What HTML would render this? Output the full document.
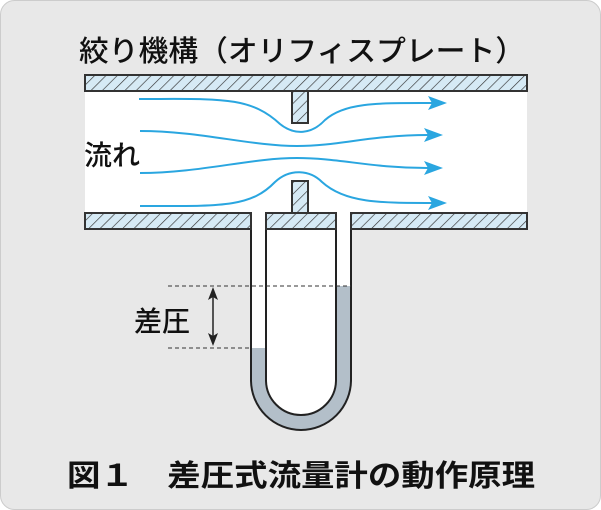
<!DOCTYPE html>
<html><head><meta charset="utf-8"><style>
body{margin:0;width:601px;height:510px;background:#fff;overflow:hidden}
svg{display:block}
text{font-family:"Liberation Sans","Noto Sans CJK JP",sans-serif;fill:#111}
</style></head><body>
<svg width="601" height="510" viewBox="0 0 601 510">
<defs>
<pattern id="h" width="8" height="8" patternUnits="userSpaceOnUse" patternTransform="rotate(45)">
<rect width="8" height="8" fill="#d6eaf5"/><line x1="0" y1="0" x2="0" y2="8" stroke="#333" stroke-width="1.3"/></pattern>
</defs>
<rect x="0.5" y="0.5" width="600" height="509" rx="14" fill="#e8e8e8" stroke="#ccc"/>
<text x="79" y="61" font-size="29" font-weight="500" textLength="446" lengthAdjust="spacingAndGlyphs">絞り機構（オリフィスプレート）</text>
<rect x="85" y="91" width="442" height="122" fill="#fff"/>
<!-- U tube -->
<path d="M251 213 V380 A50 50 0 0 0 351 380 V213 Z" fill="#fff"/>
<path d="M251 348 V380 A50 50 0 0 0 351 380 V286 H336 V380 A35 35 0 0 1 266 380 V348 Z" fill="#b3bfc9"/>
<g fill="none" stroke="#222" stroke-width="2">
<path d="M251 229 V380 A50 50 0 0 0 351 380 V229"/>
<path d="M266 229 V380 A35 35 0 0 0 336 380 V229"/>
</g>
<g fill="url(#h)" stroke="#333" stroke-width="2">
<rect x="85" y="75" width="442" height="16"/>
<rect x="85" y="213" width="166" height="16"/>
<rect x="266" y="213" width="70" height="16"/>
<rect x="351" y="213" width="176" height="16"/>
<rect x="292" y="91" width="16" height="32"/>
<rect x="292" y="181" width="16" height="32"/>
</g>
<g stroke="#333" stroke-width="1" stroke-dasharray="4,3">
<line x1="168" y1="286" x2="351" y2="286"/>
<line x1="168" y1="348" x2="251" y2="348"/>
</g>
<line x1="213" y1="292" x2="213" y2="341" stroke="#222" stroke-width="1.5"/>
<path d="M213 287 L208 300 L213 297 L218 300Z M213 346 L208 333 L213 336 L218 333Z" fill="#222"/>
<text x="134" y="331" font-size="28" font-weight="500">差圧</text>
<text x="84" y="165" font-size="28" font-weight="500">流れ</text>
<g fill="none" stroke="#2aa6e0" stroke-width="2">
<path d="M139 99 C220 99 250 96 280 124 C295 136 312 134 325 120 C345 102 380 103 432 103"/>
<path d="M140 131 C200 131 250 146 297 146 C340 146 370 135 428 135"/>
<path d="M140 173 C200 173 250 158 297 158 C340 158 370 168 428 168"/>
<path d="M140 206 C220 206 250 208 275 182 C290 168 310 170 322 182 C345 203 380 203 432 203"/>
</g>
<g fill="#2aa6e0">
<path d="M447 103 L428 96 L432 103 L428 110Z"/>
<path d="M443 135 L424 128 L428 135 L424 142Z"/>
<path d="M443 168 L424 161 L428 168 L424 175Z"/>
<path d="M447 203 L428 196 L432 203 L428 210Z"/>
</g>
<text x="67" y="486" font-size="30" font-weight="bold" textLength="468" lengthAdjust="spacingAndGlyphs">図１　差圧式流量計の動作原理</text>
</svg>
</body></html>
